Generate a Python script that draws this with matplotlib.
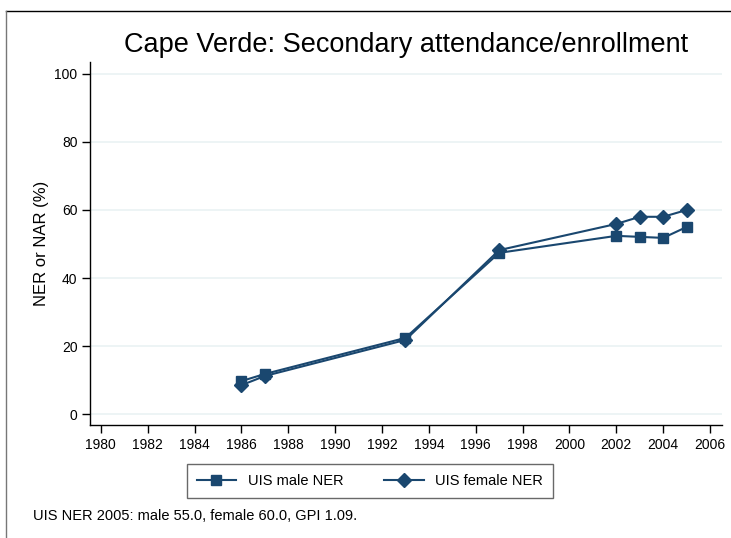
import matplotlib
matplotlib.use("Agg")
import matplotlib.pyplot as plt
from matplotlib.lines import Line2D

years_male = [1986, 1987, 1993, 1997, 2002, 2003, 2004, 2005]
male_ner = [9.7, 11.8, 22.4, 47.4, 52.4, 52.1, 51.8, 55.0]
years_female = [1986, 1987, 1993, 1997, 2002, 2003, 2004, 2005]
female_ner = [8.5, 11.2, 21.8, 48.2, 55.9, 58.0, 58.0, 60.0]
x_ticks = list(range(1980, 2007, 2))
y_ticks = [0, 20, 40, 60, 80, 100]
title = "Cape Verde: Secondary attendance/enrollment"
ylabel = "NER or NAR (%)"
note = "UIS NER 2005: male 55.0, female 60.0, GPI 1.09."

plt.rcParams['font.family'] = ['Liberation Sans', 'DejaVu Sans']
color = '#1a476f'

fig = plt.figure(figsize=(7.31, 5.38), dpi=100)
W, H = 731, 538
ax = fig.add_axes([90 / W, 1 - 425 / H, (722 - 90) / W, (425 - 62) / H])

ax.plot(years_male, male_ner, color=color, lw=1.5, marker='s', ms=6.8,
        label='UIS male NER')
ax.plot(years_female, female_ner, color=color, lw=1.5, marker='D', ms=7.2,
        label='UIS female NER')

ax.set_xlim(1979.54, 2006.51)
ax.set_ylim(-3.2, 103.5)
ax.set_xticks(x_ticks)
ax.set_yticks(y_ticks)
ax.tick_params(axis='both', direction='out', length=6, width=1, labelsize=10, colors='black')
ax.tick_params(axis='y', pad=3)
ax.grid(axis='y', color='#eaf2f3', lw=1.2)
ax.set_axisbelow(True)
for s in ['top', 'right']:
    ax.spines[s].set_visible(False)
for s in ['left', 'bottom']:
    ax.spines[s].set_linewidth(1)
ax.set_ylabel(ylabel, fontsize=12, labelpad=4)

fig.text(406 / W, 1 - 45 / H, title, ha='center', va='center', fontsize=19.5)

leg = fig.legend(loc='center', bbox_to_anchor=(370 / W, 1 - 481 / H), ncol=2,
                 fontsize=10.5, frameon=True, fancybox=False, edgecolor='#444444',
                 handlelength=2.7, columnspacing=2.8, borderpad=0.7, handletextpad=0.8)
leg.get_frame().set_linewidth(1)

fig.text(33 / W, 1 - 516 / H, note, ha='left', va='center', fontsize=10.5)

# outer frame
fig.add_artist(Line2D([6 / W, 1], [1 - 11 / H, 1 - 11 / H], color='black', lw=1,
                      transform=fig.transFigure))
fig.add_artist(Line2D([6 / W, 6 / W], [1 - 11 / H, 0], color='#777777', lw=1,
                      transform=fig.transFigure))

fig.savefig('out.png', dpi=100)
